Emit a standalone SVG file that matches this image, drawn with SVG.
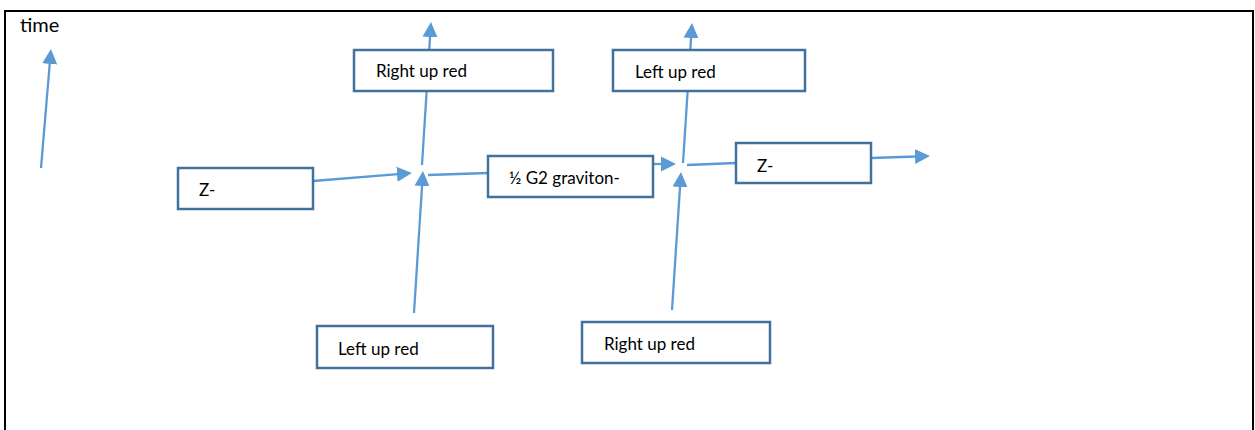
<svg xmlns="http://www.w3.org/2000/svg" width="1255" height="430" viewBox="0 0 1255 430">
  <style>
    .box { fill: #ffffff; stroke: #41719C; stroke-width: 2.5; }
    .lbl { font-family: Lato, "Liberation Sans", sans-serif; font-size: 17px; fill: #000000; }
    .conn { stroke: #5B9BD5; stroke-width: 2.3; fill: none; }
    .arr { marker-end: url(#ah); }
  </style>
  <defs>
    <marker id="ah" markerUnits="userSpaceOnUse" markerWidth="16" markerHeight="16" viewBox="0 -8 16 16" refX="1" refY="0" orient="auto">
      <path d="M0,-7.5 L15,0 L0,7.5 Z" fill="#5B9BD5"/>
    </marker>
  </defs>
  <rect x="0" y="0" width="1255" height="430" fill="#ffffff"/>
  <rect x="5" y="11" width="1248" height="440" fill="none" stroke="#000000" stroke-width="2"/>

  <g id="connectors">
    <line class="conn arr" x1="41" y1="168" x2="49.8" y2="63"/>
    <line class="conn arr" x1="313" y1="181" x2="398" y2="174.1"/>
    <line class="conn arr" x1="414" y1="313" x2="422.1" y2="185"/>
    <line class="conn arr" x1="422" y1="165" x2="430.1" y2="36"/>
    <line class="conn" x1="428" y1="175" x2="488" y2="173"/>
    <line class="conn arr" x1="653" y1="164" x2="662" y2="164"/>
    <line class="conn arr" x1="672" y1="310" x2="680.1" y2="186"/>
    <line class="conn arr" x1="683" y1="163" x2="691.1" y2="37"/>
    <line class="conn" x1="687" y1="165" x2="736" y2="163"/>
    <line class="conn arr" x1="871" y1="158" x2="916" y2="156.5"/>
  </g>

  <g id="time-label">
    <text class="lbl" x="20" y="32" style="font-size:20px">time</text>
  </g>

  <g id="node-right-up-red-top">
    <rect class="box" x="354" y="50" width="199" height="41"/>
    <text class="lbl" x="376" y="77">Right up red</text>
  </g>

  <g id="node-left-up-red-top">
    <rect class="box" x="613" y="50" width="192" height="41"/>
    <text class="lbl" x="635" y="78">Left up red</text>
  </g>

  <g id="node-z-left">
    <rect class="box" x="178" y="168" width="135" height="41"/>
    <text class="lbl" x="199" y="196">Z-</text>
  </g>

  <g id="node-graviton">
    <rect class="box" x="488" y="156" width="165" height="41"/>
    <text class="lbl" x="509" y="184">½ G2 graviton-</text>
  </g>

  <g id="node-z-right">
    <rect class="box" x="736" y="143" width="135" height="40"/>
    <text class="lbl" x="757" y="172">Z-</text>
  </g>

  <g id="node-left-up-red-bottom">
    <rect class="box" x="317" y="326" width="176" height="42"/>
    <text class="lbl" x="338" y="355">Left up red</text>
  </g>

  <g id="node-right-up-red-bottom">
    <rect class="box" x="582" y="322" width="188" height="41"/>
    <text class="lbl" x="604" y="350">Right up red</text>
  </g>
</svg>
